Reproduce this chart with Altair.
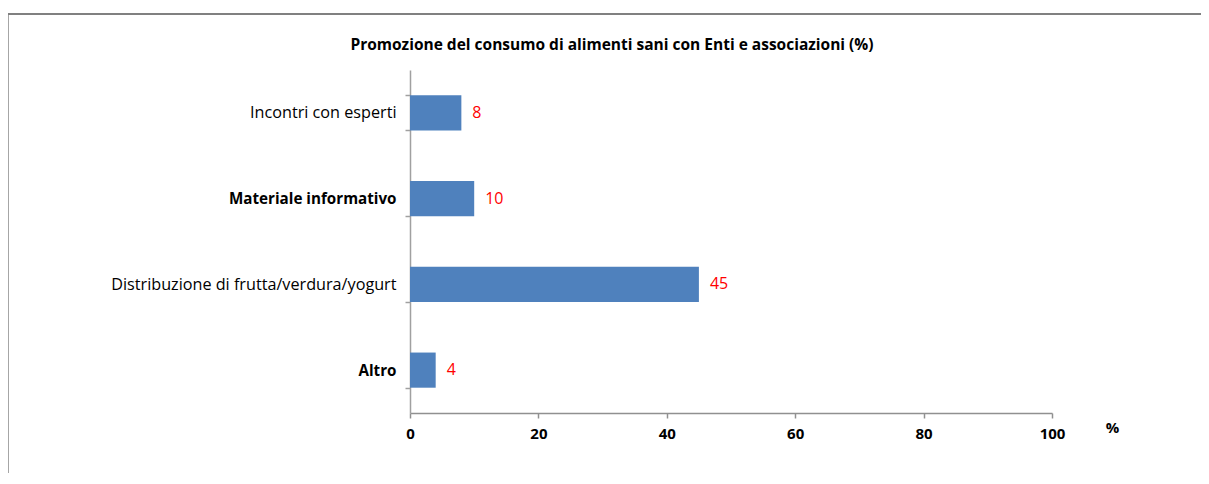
import altair as alt
import pandas as pd

categories = ["Incontri con esperti", "Materiale informativo", "Distribuzione di frutta/verdura/yogurt", "Altro"]
values = [8, 10, 45, 4]
bold_labels = ["Materiale informativo", "Altro"]
x_ticks = [0, 20, 40, 60, 80, 100]
title_text = "Promozione del consumo di alimenti sani con Enti e associazioni (%)"

df = pd.DataFrame({"cat": categories, "val": values})
FONT = "Open Sans"
is_bold = "indexof(%s, datum.value) >= 0" % str(bold_labels)

y_enc = alt.Y(
    "cat:N",
    sort=categories,
    title=None,
    scale=alt.Scale(paddingInner=0.59, paddingOuter=0.295),
    axis=alt.Axis(
        tickBand="extent",
        labelFont=FONT,
        labelFontSize={"expr": is_bold + " ? 15.2 : 16.2"},
        labelFontWeight={"expr": is_bold + " ? 'bold' : 'normal'"},
        labelColor="#000000",
        labelPadding=9,
        labelLimit=500,
        tickSize=5,
        tickColor="#a0a0a0",
        domainColor="#a0a0a0",
        domainWidth=1.5,
        tickWidth=1.5,
        grid=False,
    ),
)

x_enc = alt.X(
    "val:Q",
    scale=alt.Scale(domain=[0, 100]),
    axis=alt.Axis(
        values=x_ticks,
        title="%",
        titleX=702,
        titleY=14,
        titleAngle=0,
        titleAlign="center",
        titleBaseline="middle",
        titleFont=FONT,
        titleFontSize=15,
        titleFontWeight="bold",
        titleColor="#000000",
        labelFont=FONT,
        labelFontSize=15,
        labelFontWeight="bold",
        labelColor="#000000",
        labelPadding=8,
        labelFlush=False,
        tickSize=5,
        tickColor="#909090",
        domainColor="#909090",
        domainWidth=1.5,
        tickWidth=1.5,
        grid=False,
    ),
)

base = alt.Chart(df)
bars = base.mark_bar(color="#4f81bd").encode(x=x_enc, y=y_enc)
labels = base.mark_text(
    align="left", baseline="middle", dx=11, color="#ff0000", font=FONT, fontSize=16
).encode(x="val:Q", y=alt.Y("cat:N", sort=categories), text="val:Q")

one_df = pd.DataFrame({"t": [title_text]})
title_mark = alt.Chart(one_df).mark_text(
    align="center", baseline="middle", font=FONT, fontSize=15.5, fontWeight="bold", color="#000000"
).encode(x=alt.value(202), y=alt.value(-25), text="t:N")

left_line = alt.Chart(one_df).mark_rule(color="#a6a6a6", strokeWidth=2).encode(
    x=alt.value(-402), y=alt.value(-56), y2=alt.value(600)
)
top_line = alt.Chart(one_df).mark_rule(color="#808080", strokeWidth=2).encode(
    x=alt.value(-403), x2=alt.value(1000), y=alt.value(-56)
)

chart = alt.layer(left_line, top_line, title_mark, bars, labels).properties(
    width=642,
    height=343,
    autosize=alt.AutoSizeParams(type="none"),
    padding={"left": 402, "top": 62, "right": 149, "bottom": 60},
).configure_view(stroke=None)

chart.save("out.html", embed_options={"renderer": "svg", "actions": False})
